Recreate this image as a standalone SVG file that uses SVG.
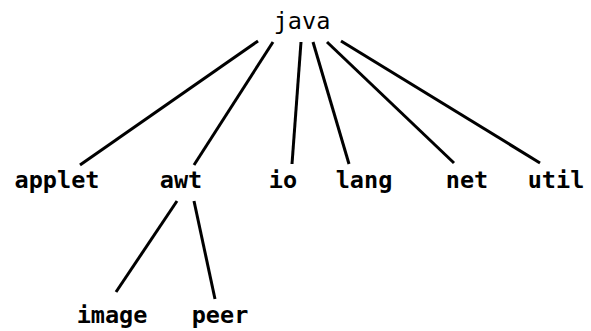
<svg xmlns="http://www.w3.org/2000/svg" width="591" height="331" viewBox="0 0 591 331">
<style>
text{font-family:"DejaVu Sans Mono","Liberation Mono",monospace;font-size:23.5px;text-anchor:middle;fill:#000}
.b{font-weight:bold}
line{stroke:#000;stroke-width:3;stroke-linecap:butt}
</style>
<rect width="591" height="331" fill="#fff"/>
<g id="connectors">
<line x1="258" y1="41" x2="80" y2="165"/>
<line x1="273" y1="42" x2="194" y2="165"/>
<line x1="301" y1="42" x2="292" y2="164"/>
<line x1="313" y1="42" x2="349" y2="164"/>
<line x1="327" y1="42" x2="454" y2="163"/>
<line x1="341" y1="41" x2="540" y2="163"/>
<line x1="177" y1="201" x2="116" y2="292"/>
<line x1="194" y1="201" x2="215" y2="299"/>
</g>
<g id="java"><text x="302" y="29">java</text></g>
<g id="applet"><text class="b" x="57" y="188">applet</text></g>
<g id="awt"><text class="b" x="181" y="188">awt</text></g>
<g id="io"><text class="b" x="283" y="188">io</text></g>
<g id="lang"><text class="b" x="364" y="188">lang</text></g>
<g id="net"><text class="b" x="467" y="188">net</text></g>
<g id="util"><text class="b" x="556" y="188">util</text></g>
<g id="image"><text class="b" x="112" y="323">image</text></g>
<g id="peer"><text class="b" x="220" y="323">peer</text></g>
</svg>
